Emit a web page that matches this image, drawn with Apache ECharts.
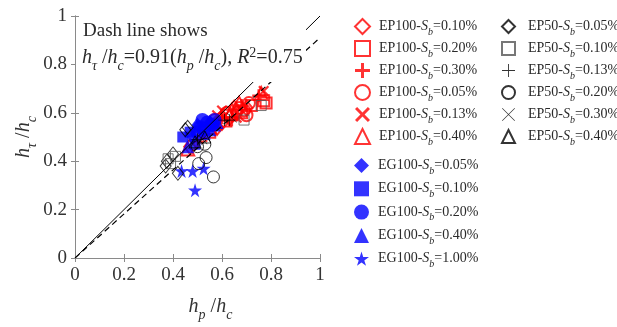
<!DOCTYPE html>
<html>
<head>
<meta charset="utf-8">
<script src="https://cdn.jsdelivr.net/npm/echarts@6/dist/echarts.min.js"></script>
<style>
  html, body { margin: 0; background: #fff; }
  #chart { width: 617px; height: 327px; }
</style>
</head>
<body>
<div id="chart"></div>
<script>
// 数据: [hp/hc, hτ/hc]
const ep100_010 = [[0.60, 0.56], [0.63, 0.58], [0.66, 0.60], [0.58, 0.54], [0.65, 0.62], [0.47, 0.46], [0.70, 0.62]]
const ep100_020 = [[0.78, 0.64], [0.77, 0.65], [0.62, 0.59], [0.68, 0.60], [0.55, 0.52], [0.72, 0.63]]
const ep100_030 = [[0.75, 0.67], [0.60, 0.58], [0.64, 0.57], [0.50, 0.48], [0.68, 0.63]]
const ep100_005 = [[0.67, 0.62], [0.69, 0.61], [0.62, 0.60], [0.57, 0.57], [0.70, 0.59], [0.71, 0.64]]
const ep100_013 = [[0.77, 0.69], [0.66, 0.58], [0.58, 0.59], [0.52, 0.50], [0.60, 0.61]]
const ep100_040 = [[0.76, 0.68], [0.64, 0.61], [0.61, 0.57], [0.46, 0.45], [0.55, 0.54], [0.67, 0.64]]

const eg100_005 = [[0.50, 0.55], [0.52, 0.53], [0.48, 0.50], [0.55, 0.56]]
const eg100_010 = [[0.44, 0.50], [0.47, 0.52], [0.49, 0.47], [0.53, 0.51]]
const eg100_020 = [[0.52, 0.57], [0.54, 0.56], [0.51, 0.54], [0.56, 0.55], [0.50, 0.52], [0.57, 0.57]]
const eg100_040 = [[0.55, 0.53], [0.57, 0.55], [0.58, 0.56], [0.46, 0.46]]
const eg100_100 = [[0.435, 0.36], [0.48, 0.36], [0.525, 0.37], [0.49, 0.28]]

const ep50_005 = [[0.46, 0.54], [0.45, 0.53], [0.375, 0.40], [0.40, 0.43], [0.42, 0.35], [0.37, 0.38]]
const ep50_010 = [[0.69, 0.57], [0.76, 0.63], [0.38, 0.41], [0.41, 0.42], [0.39, 0.39]]
const ep50_013 = [[0.63, 0.57], [0.61, 0.57], [0.50, 0.49]]
const ep50_020 = [[0.565, 0.335], [0.535, 0.415], [0.505, 0.39], [0.50, 0.46], [0.53, 0.47]]
const ep50_030 = [[0.64, 0.58], [0.52, 0.49], [0.48, 0.47]]
const ep50_040 = [[0.49, 0.48], [0.53, 0.50]]

// 1:1 线和拟合线 (斜率 0.91)
const refLine = [[0, 0], [1, 1]]
const fitLine = [[0, 0], [1, 0.91]]

const axisTicks = [0, 0.2, 0.4, 0.6, 0.8, 1]

const SERIF = '"Liberation Serif", "Times New Roman", serif'
const RED = '#ff0000'
const BLUE = '#0000ff'
const BLACK = '#000000'
const TEXT = '#2a2a2a'

const PLUS_THICK = 'path://M4,0H6V4H10V6H6V10H4V6H0V4H4Z'
const PLUS_THIN = 'path://M9.3,0H10.7V9.3H20V10.7H10.7V20H9.3V10.7H0V9.3H9.3Z'
const X_THICK = 'path://M1.4,0L5,3.6L8.6,0L10,1.4L6.4,5L10,8.6L8.6,10L5,6.4L1.4,10L0,8.6L3.6,5L0,1.4Z'
const X_THIN = 'path://M0.7,0L10,9.3L19.3,0L20,0.7L10.7,10L20,19.3L19.3,20L10,10.7L0.7,20L0,19.3L9.3,10L0,0.7Z'
const STAR = 'path://M50,0L61,35L98,35L68,57L79,91L50,70L21,91L32,57L2,35L39,35Z'

// 散点系列
function scatter(name, data, symbol, size, color, opts = {}) {
  const hollow = opts.hollow
  return {
    name,
    type: 'scatter',
    data,
    symbol,
    symbolSize: size,
    z: opts.z || 3,
    itemStyle: hollow
      ? { color: 'rgba(0,0,0,0)', borderColor: color, borderWidth: opts.bw || 2 }
      : { color, borderWidth: 0 },
    emphasis: { disabled: true }
  }
}

const series = [
  scatter('EP100-Sb=0.10%', ep100_010, 'diamond', [12, 15], RED, { hollow: true }),
  scatter('EP100-Sb=0.20%', ep100_020, 'rect', 11, RED, { hollow: true }),
  scatter('EP100-Sb=0.30%', ep100_030, PLUS_THICK, 13, RED),
  scatter('EP100-Sb=0.05%', ep100_005, 'circle', 12, RED, { hollow: true }),
  scatter('EP100-Sb=0.13%', ep100_013, X_THICK, 11, RED),
  scatter('EP100-Sb=0.40%', ep100_040, 'triangle', 13, RED, { hollow: true }),
  scatter('EG100-Sb=0.05%', eg100_005, 'diamond', [12, 15], BLUE, { z: 4 }),
  scatter('EG100-Sb=0.10%', eg100_010, 'rect', 11, BLUE, { z: 4 }),
  scatter('EG100-Sb=0.20%', eg100_020, 'circle', 14, BLUE, { z: 4 }),
  scatter('EG100-Sb=0.40%', eg100_040, 'triangle', 13, BLUE, { z: 4 }),
  scatter('EG100-Sb=1.00%', eg100_100, STAR, 14, BLUE, { z: 4 }),
  scatter('EP50-Sb=0.05%', ep50_005, 'diamond', [11, 14], BLACK, { hollow: true, bw: 1, z: 5 }),
  scatter('EP50-Sb=0.10%', ep50_010, 'rect', 10, '#555', { hollow: true, bw: 1, z: 5 }),
  scatter('EP50-Sb=0.13%', ep50_013, PLUS_THIN, 12, BLACK, { z: 5 }),
  scatter('EP50-Sb=0.20%', ep50_020, 'circle', 12, BLACK, { hollow: true, bw: 1, z: 5 }),
  scatter('EP50-Sb=0.30%', ep50_030, X_THIN, 10, BLACK, { z: 5 }),
  scatter('EP50-Sb=0.40%', ep50_040, 'triangle', 12, BLACK, { hollow: true, bw: 1, z: 5 }),
  {
    type: 'line', data: refLine, symbol: 'none', z: 8, silent: true,
    lineStyle: { color: '#000', width: 1 }
  },
  {
    type: 'line', data: fitLine, symbol: 'none', z: 8, silent: true,
    lineStyle: { color: '#000', width: 1.2, type: [6, 4] }
  }
]

const names = series.filter(s => s.name).map(s => s.name)

// 图例文字: S 斜体, b 下标
const legendText = {
  fontFamily: SERIF,
  fontSize: 14,
  color: TEXT,
  rich: {
    n: { fontFamily: SERIF, fontSize: 14, lineHeight: 21, color: TEXT },
    s: { fontFamily: SERIF, fontSize: 14, lineHeight: 21, fontStyle: 'italic', color: TEXT },
    b: { fontFamily: SERIF, fontSize: 10, lineHeight: 10, fontStyle: 'italic', color: TEXT, padding: [11, 0, 0, 0] }
  }
}

function legendFormatter(name) {
  const [prefix, val] = name.split('-Sb=')
  return `{n|${prefix}-}{s|S}{b|b}{n|=${val}}`
}

function legend(data, left, top, gap, size, pad) {
  return {
    data,
    orient: 'vertical',
    left,
    top,
    itemGap: gap,
    itemWidth: size,
    itemHeight: size,
    selectedMode: false,
    formatter: legendFormatter,
    textStyle: { ...legendText, padding: [0, 0, 0, pad] }
  }
}

// 坐标轴名称 rich 样式
const axisNameRich = {
  i: { fontFamily: SERIF, fontSize: 20, fontStyle: 'italic', lineHeight: 30, color: '#333' },
  n: { fontFamily: SERIF, fontSize: 20, lineHeight: 30, color: '#333' },
  s: { fontFamily: SERIF, fontSize: 14, fontStyle: 'italic', lineHeight: 14, color: '#333', padding: [16, 0, 0, 0] }
}

const frameColor = '#8a8a8a'

function axis(extra) {
  return {
    type: 'value',
    min: 0,
    max: 1,
    interval: 0.2,
    splitLine: { show: false },
    axisLine: { show: true, lineStyle: { color: frameColor, width: 1 } },
    axisTick: { show: true, inside: true, length: 4, lineStyle: { color: frameColor } },
    axisLabel: {
      fontFamily: SERIF, fontSize: 19, color: '#333', margin: 8,
      customValues: axisTicks
    },
    ...extra
  }
}

const option = {
  animation: false,
  backgroundColor: '#fff',
  grid: { left: 75, top: 16, width: 245, height: 246 },
  xAxis: [
    axis({
      position: 'bottom',
      name: '{i|h}{s|p}{n| /}{i|h}{s|c}',
      nameLocation: 'middle',
      nameGap: 34,
      nameTextStyle: { rich: axisNameRich, padding: [0, 0, 0, 26] }
    }),
    axis({ position: 'top', axisLabel: { show: false } })
  ],
  yAxis: [
    axis({
      position: 'left',
      name: '{i|h}{s|τ}{n| /}{i|h}{s|c}',
      nameLocation: 'middle',
      nameGap: 36,
      nameTextStyle: { rich: axisNameRich }
    }),
    axis({ position: 'right', axisLabel: { show: false } })
  ],
  legend: [
    legend(names.slice(0, 6), 349, 11, 1, 15, 4),
    legend(names.slice(6, 11), 349, 150, 2.3, 15, 4),
    legend(names.slice(11), 496, 11, 1, 13, 8)
  ],
  graphic: [
    {
      type: 'rect', z: 100, silent: true,
      shape: { x: 76, y: 17, width: 230, height: 65 },
      style: { fill: '#fff' }
    },
    {
      type: 'text', z: 101, left: 83, top: 22, silent: true,
      style: { text: 'Dash line shows', font: '19px ' + SERIF, fill: TEXT }
    },
    {
      type: 'text', z: 101, left: 82, top: 43, silent: true,
      style: {
        text: '{i|h}{s|τ}{n| /}{i|h}{s|c}{n|=0.91(}{i|h}{s|p}{n| /}{i|h}{s|c}{n|), }{i|R}{u|2}{n|=0.75}',
        fill: TEXT,
        rich: {
          i: { fontFamily: SERIF, fontSize: 20, fontStyle: 'italic', lineHeight: 30, fill: TEXT },
          n: { fontFamily: SERIF, fontSize: 20, lineHeight: 30, fill: TEXT },
          s: { fontFamily: SERIF, fontSize: 14, fontStyle: 'italic', lineHeight: 14, fill: TEXT, padding: [16, 0, 0, 0] },
          u: { fontFamily: SERIF, fontSize: 14, lineHeight: 14, fill: TEXT, padding: [0, 0, 10, 0] }
        }
      }
    }
  ],
  series
}

const chart = echarts.init(document.getElementById('chart'))
chart.setOption(option)
</script>
</body>
</html>
